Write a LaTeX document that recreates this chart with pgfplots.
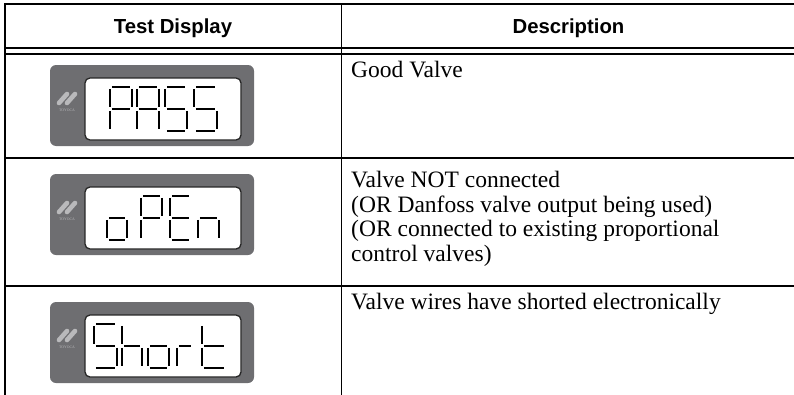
\documentclass[border=0pt]{standalone}
\usepackage{fontspec}
\setmainfont{Liberation Serif}
\newfontfamily\arial{Liberation Sans}
\usepackage{pgfplots}
\pgfplotsset{compat=1.18}
\definecolor{bezel}{HTML}{6E6E71}
\definecolor{logo}{HTML}{B9B9BB}
\definecolor{rim}{HTML}{262626}

\newcommand\sgap{1.8}
\newcommand\segline[4]{\edef\tmp{\noexpand\draw[line width=1.8bp,black] (axis cs:{#1},{#2}) -- (axis cs:{#3},{#4});}\tmp}
\def\SA{\segline{\dX+\sgap}{\dY}{\dX+\dW-\sgap}{\dY}}
\def\SB{\segline{\dX+\dW}{\dY+\sgap}{\dX+\dW}{\dY+\dH/2-\sgap}}
\def\SC{\segline{\dX+\dW}{\dY+\dH/2+\sgap}{\dX+\dW}{\dY+\dH-\sgap}}
\def\SD{\segline{\dX+\sgap}{\dY+\dH}{\dX+\dW-\sgap}{\dY+\dH}}
\def\SE{\segline{\dX}{\dY+\dH/2+\sgap}{\dX}{\dY+\dH-\sgap}}
\def\SF{\segline{\dX}{\dY+\sgap}{\dX}{\dY+\dH/2-\sgap}}
\def\SG{\segline{\dX+\sgap}{\dY+\dH/2}{\dX+\dW-\sgap}{\dY+\dH/2}}
\newcommand\digit[5]{\def\dX{#1}\def\dY{#2}\def\dW{#3}\def\dH{#4}#5}

% LCD bezel with logo at (#1,#2)
\newcommand\lcd[2]{%
  \fill[bezel, rounded corners=6bp] (axis cs:#1,#2) rectangle (axis cs:{#1+204},{#2+81});
  \filldraw[fill=white, draw=rim, line width=1.3bp, rounded corners=5bp] (axis cs:{#1+35},{#2+13}) rectangle (axis cs:{#1+191},{#2+75});
  \draw[logo, line width=4.6bp, line cap=round] (axis cs:{#1+9},{#2+38}) -- (axis cs:{#1+17},{#2+29});
  \draw[logo, line width=4.6bp, line cap=round] (axis cs:{#1+17},{#2+38}) -- (axis cs:{#1+25},{#2+29});
  \node[logo, font=\fontsize{3.8}{4}\selectfont, inner sep=0pt] at (axis cs:{#1+17},{#2+45}) {TOYOCA};
}

\begin{document}
\begin{tikzpicture}
\begin{axis}[
  hide axis, scale only axis,
  width=794bp, height=395bp,
  xmin=0, xmax=794, ymin=0, ymax=395,
  y dir=reverse, clip=false,
]
\coordinate (bl) at (axis cs:0,395);
\coordinate (tr) at (axis cs:794,0);

% table rules
\draw[line width=1.8bp] (axis cs:4.1,4) -- (axis cs:794,4);
\draw[line width=1.8bp] (axis cs:5,3.1) -- (axis cs:5,395);
\draw[line width=1.8bp] (axis cs:341.5,3.1) -- (axis cs:341.5,395);
\draw[line width=1.8bp] (axis cs:5,48) -- (axis cs:794,48);
\draw[line width=1.8bp] (axis cs:5,54) -- (axis cs:794,54);
\draw[line width=1.8bp] (axis cs:5,157.7) -- (axis cs:794,157.7);
\draw[line width=1.8bp] (axis cs:5,285.7) -- (axis cs:794,285.7);

% headers
\node[anchor=base, inner sep=0pt, font=\arial\bfseries\fontsize{20.4}{24}\selectfont] at (axis cs:173,33) {Test Display};
\node[anchor=base, inner sep=0pt, font=\arial\bfseries\fontsize{20.4}{24}\selectfont] at (axis cs:568.5,33) {Description};

% descriptions
\node[anchor=base west, inner sep=0pt, font=\fontsize{23.6}{28}\selectfont] at (axis cs:351,77) {Good Valve};
\node[anchor=base west, inner sep=0pt, font=\fontsize{23.6}{28}\selectfont] at (axis cs:351,187) {Valve NOT connected};
\node[anchor=base west, inner sep=0pt, font=\fontsize{23.6}{28}\selectfont] at (axis cs:351,212) {(OR Danfoss valve output being used)};
\node[anchor=base west, inner sep=0pt, font=\fontsize{23.6}{28}\selectfont] at (axis cs:351,236.5) {(OR connected to existing proportional};
\node[anchor=base west, inner sep=0pt, font=\fontsize{23.6}{28}\selectfont] at (axis cs:351,261) {control valves)};
\node[anchor=base west, inner sep=0pt, font=\fontsize{23.6}{28}\selectfont] at (axis cs:351,309) {Valve wires have shorted electronically};

% displays
\lcd{50}{65}
\lcd{50}{174}
\lcd{50}{302}

% PASS
\digit{110}{87}{22}{44}{\SA\SB\SF\SG\SE}
\digit{137}{87}{22}{44}{\SA\SB\SC\SE\SF\SG}
\digit{165}{87}{22}{44}{\SA\SF\SG\SC\SD}
\digit{194}{87}{23}{44}{\SA\SF\SG\SC\SD}
% oPEn
\digit{107}{196}{20}{44}{\SG\SC\SD\SE}
\digit{141}{196}{21}{44}{\SA\SB\SF\SG\SE}
\digit{170}{196}{21}{44}{\SA\SF\SG\SE\SD}
\digit{198}{196}{21}{44}{\SG\SE\SC}
% Short
\digit{94}{324}{23}{44}{\SA\SF\SG\SC\SD}
\digit{122}{324}{20}{44}{\SF\SE\SG\SC}
\digit{148}{324}{21}{44}{\SG\SC\SD\SE}
\digit{177}{324}{16}{44}{\SE\SG}
\digit{202}{324}{24}{44}{\SF\SE\SG\SD}
\end{axis}
\pgfresetboundingbox
\path (bl) rectangle (tr);
\end{tikzpicture}
\end{document}
